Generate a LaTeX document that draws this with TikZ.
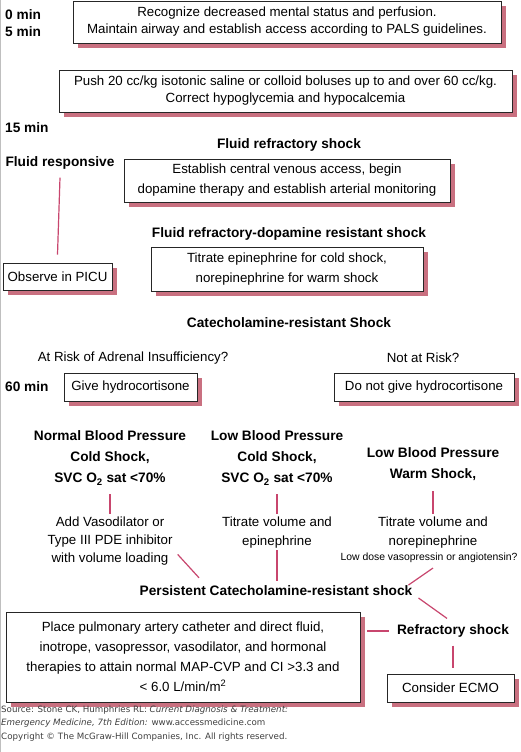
\documentclass[tikz,border=0pt]{standalone}
\usepackage{fontspec}
\setmainfont{Liberation Sans}
\newfontfamily\footfont{DejaVu Sans}
\usetikzlibrary{shadows,calc}
\definecolor{shadowc}{RGB}{201,112,128}
\definecolor{linec}{RGB}{200,70,110}
\newcommand{\fs}[1]{\fontsize{13.3}{#1}\selectfont}
\newcommand{\fb}[1]{\fontsize{13.7}{#1}\selectfont}
\begin{document}
\begin{tikzpicture}[x=1pt,y=-1pt,
  box/.style={draw=black!85, line width=0.9pt, fill=white, align=center, inner sep=0pt,
    drop shadow={shadow xshift=5pt, shadow yshift=-5pt, fill=shadowc, opacity=1}},
  txt/.style={inner sep=0pt, align=center},
  tm/.style={inner sep=0pt, anchor=west, font=\bfseries\fb{15}},
  hd/.style={inner sep=0pt, align=center, font=\bfseries\fb{21}},
  conn/.style={draw=linec, line width=1.2pt},
  foot/.style={inner sep=0pt, anchor=west, text=black!75, font=\footfont\fontsize{8.7}{10}\selectfont}]
\useasboundingbox (0,0) rectangle (520,752);
\fill[white] (0,0) rectangle (520,752);
\draw[black!25, line width=0.8pt] (0.4,0) -- (0.4,752);

% time labels
\node[tm] (t0) at (5,15) {0 min};
\node[tm] (t5) at (5,32) {5 min};
\node[tm] (t15) at (5,128) {15 min};
\node[tm] (t60) at (5,387) {60 min};

% boxes
\node[box, minimum width=428pt, minimum height=42pt, font=\fs{17}] (b1) at (287,22)
  {Recognize decreased mental status and perfusion.\\Maintain airway and establish access according to PALS guidelines.};
\node[box, minimum width=453pt, minimum height=42pt, font=\fs{17}] (b2) at (285.5,91)
  {Push 20 cc/kg isotonic saline or colloid boluses up to and over 60 cc/kg.\\Correct hypoglycemia and hypocalcemia};

\node[hd] (frs) at (289,145) {Fluid refractory shock};
\node[hd] (fresp) at (60,163) {Fluid responsive};
\node[box, minimum width=326pt, minimum height=43pt, font=\fs{20}] (b3) at (287,180.5)
  {Establish central venous access, begin\\dopamine therapy and establish arterial monitoring};

\node[hd] (frd) at (289,234) {Fluid refractory-dopamine resistant shock};
\node[box, minimum width=109pt, minimum height=27pt, font=\fs{17}] (picu) at (57.5,276.5) {Observe in PICU};
\node[box, minimum width=272pt, minimum height=44pt, font=\fs{20}] (b4) at (287,269)
  {Titrate epinephrine for cold shock,\\norepinephrine for warm shock};

\node[hd] (crs) at (289,323) {Catecholamine-resistant Shock};
\node[txt, font=\fs{17}] (risk) at (133,358) {At Risk of Adrenal Insufficiency?};
\node[txt, font=\fs{17}] (nrisk) at (423,358) {Not at Risk?};
\node[box, minimum width=133pt, minimum height=28pt, font=\fs{17}] (hc) at (130.5,387) {Give hydrocortisone};
\node[box, minimum width=180pt, minimum height=28pt, font=\fs{17}] (nhc) at (424,387) {Do not give hydrocortisone};

% three columns
\node[hd] (hL) at (110,458) {Normal Blood Pressure\\Cold Shock,\\SVC O\textsubscript{2} sat <70\%};
\node[hd] (hM) at (277,458) {Low Blood Pressure\\Cold Shock,\\SVC O\textsubscript{2} sat <70\%};
\node[hd] (hR) at (433,464.5) {Low Blood Pressure\\Warm Shock,};

\node[txt, font=\fs{18}] (aL) at (110,541) {Add Vasodilator or\\Type III PDE inhibitor\\with volume loading};
\node[txt, font=\fs{19}] (aM) at (277,532.5) {Titrate volume and\\epinephrine};
\node[txt, font=\fs{19}] (aR) at (433,532.5) {Titrate volume and\\norepinephrine};
\node[txt, font=\fontsize{10.4}{12}\selectfont] (ld) at (429,558) {Low dose vasopressin or angiotensin?};

\node[hd] (pers) at (276,591) {Persistent Catecholamine-resistant shock};
\node[hd] (refr) at (453,631) {Refractory shock};

\node[box, minimum width=354pt, minimum height=90pt, font=\fs{20}] (big) at (183,657)
  {Place pulmonary artery catheter and direct fluid,\\inotrope, vasopressor, vasodilator, and hormonal\\therapies to attain normal MAP-CVP and CI >3.3 and\\< 6.0 L/min/m\textsuperscript{2}};
\node[box, minimum width=127pt, minimum height=28pt, font=\fs{17}] (ecmo) at (450.5,688) {Consider ECMO};

% connectors
\draw[conn] ([yshift=-8pt]fresp.south) -- ([yshift=8pt]picu.north);
\draw[conn] ($(hL.south)+(0,9)$) -- ($(aL.north)+(0,-3)$);
\draw[conn] ($(hM.south)+(0,9)$) -- ($(aM.north)+(0,-3)$);
\draw[conn] ($(hR.south)+(0,10)$) -- ($(aR.north)+(0,-3)$);
\draw[conn] ($(aL.south east)+(5,-11)$) -- ($(pers.north)+(-77,-8)$);
\draw[conn] ($(aM.south)+(0,2)$) -- ($(aM.south |- pers.north)+(0,-5)$);
\draw[conn] ($(ld.south)+(4,5)$) -- ($(pers.east)+(-4,-6)$);
\draw[conn] ($(pers.east)+(6,7)$) -- ($(refr.north)+(-6,-6)$);
\draw[conn] ($(refr.west)+(-8,0)$) -- ($(big.east |- refr.west)+(7,0)$);
\draw[conn] ($(refr.south)+(0,8)$) -- ($(refr.south |- ecmo.north)+(0,-6)$);

% footer
\node[foot] (f1) at (1,710) {Source: Stone CK, Humphries RL: \textit{Current Diagnosis \& Treatment:}};
\node[foot] (f2) at (1,723) {\textit{Emergency Medicine, 7th Edition:} www.accessmedicine.com};
\node[foot] (f3) at (1,737) {Copyright © The McGraw-Hill Companies, Inc. All rights reserved.};
\end{tikzpicture}
\end{document}
